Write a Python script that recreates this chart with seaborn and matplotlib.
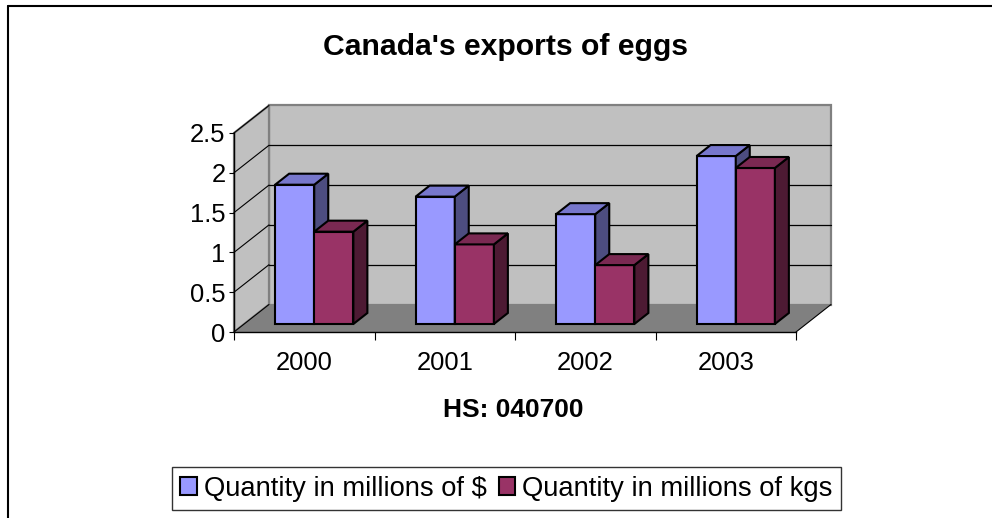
import matplotlib
matplotlib.use("Agg")
import numpy as np
import pandas as pd
import matplotlib.pyplot as plt
from matplotlib.patches import Polygon, Patch
from matplotlib.lines import Line2D
import seaborn as sns

# ---------------- data ----------------
years = ["2000", "2001", "2002", "2003"]
value_musd = [1.75, 1.60, 1.38, 2.11]
value_mkg = [1.16, 1.00, 0.74, 1.96]
series_names = ["Quantity in millions of $", "Quantity in millions of kgs"]
y_ticks = [0, 0.5, 1, 1.5, 2, 2.5]
y_tick_labels = ["0", "0.5", "1", "1.5", "2", "2.5"]
chart_title = "Canada's exports of eggs"
x_title = "HS: 040700"

front_colors = ["#9999FF", "#993366"]
top_colors = ["#7777CC", "#7A2952"]
side_colors = ["#4D4D80", "#4D1A33"]

df = pd.DataFrame({
    "year": years * 2,
    "value": value_musd + value_mkg,
    "series": [series_names[0]] * len(years) + [series_names[1]] * len(years),
})

# ---------------- figure ----------------
W, H, DPI = 992, 518, 100
sns.set_style("white")
plt.rcParams["font.family"] = ["Liberation Sans", "DejaVu Sans"]
plt.rcParams["text.color"] = "black"
plt.rcParams["axes.labelcolor"] = "black"
plt.rcParams["xtick.color"] = "black"
plt.rcParams["ytick.color"] = "black"

fig = plt.figure(figsize=(W / DPI, H / DPI), dpi=DPI)
AX_L, AX_R, AX_B, AX_T = 234, 796, 332, 133  # pixel positions (from top)
ax = fig.add_axes([AX_L / W, 1 - AX_B / H, (AX_R - AX_L) / W, (AX_B - AX_T) / H])
ax.patch.set_alpha(0)

sns.barplot(data=df, x="year", y="value", hue="series", palette=front_colors,
            width=0.557, edgecolor="black", linewidth=1.5, saturation=1,
            errorbar=None, legend=False, ax=ax)
XMIN, XMAX, YMAX = -0.5, 3.5, 2.5
ax.set_xlim(XMIN, XMAX)
ax.set_ylim(0, YMAX)

ux = (XMAX - XMIN) / (AX_R - AX_L)
uy = YMAX / (AX_B - AX_T)


def off(dxp, dyp):
    return dxp * ux, dyp * uy


# ---------------- 3D walls & floor ----------------
wx, wy = off(35, 27.5)
floor = Polygon([(XMIN, 0), (XMAX, 0), (XMAX + wx, wy), (XMIN + wx, wy)],
                fc="#808080", ec="none", zorder=0.6, clip_on=False)
back = Polygon([(XMIN + wx, wy), (XMAX + wx, wy), (XMAX + wx, YMAX + wy), (XMIN + wx, YMAX + wy)],
               fc="#C0C0C0", ec="#808080", lw=1.6, zorder=0.4, clip_on=False)
left = Polygon([(XMIN, 0), (XMIN + wx, wy), (XMIN + wx, YMAX + wy), (XMIN, YMAX)],
               fc="#C0C0C0", ec="#808080", lw=1.6, zorder=0.5, clip_on=False)
for poly in (back, left, floor):
    ax.add_patch(poly)

for v in y_ticks[1:-1]:
    ax.add_line(Line2D([XMIN + wx, XMAX + wx], [v + wy, v + wy], color="black",
                       lw=0.9, zorder=0.55, clip_on=False))
for v in y_ticks:
    ax.add_line(Line2D([XMIN, XMIN + wx], [v, v + wy], color="black",
                       lw=0.8, zorder=0.7, clip_on=False))
ax.add_line(Line2D([XMAX, XMAX + wx], [0, wy], color="black", lw=0.8,
                   zorder=0.7, clip_on=False))

# ---------------- 3D bars ----------------
bfx, bfy = off(10, 8)
bdx, bdy = off(14, 11)
for p in list(ax.patches):
    if p in (back, left, floor):
        continue
    x, y, w, h = p.get_x(), p.get_y(), p.get_width(), p.get_height()
    xc = x + w / 2
    hue = 0 if xc < round(xc) else 1
    X, Y0, Y1 = x + bfx, y + bfy, y + h + bfy
    p.set_x(X)
    p.set_y(Y0)
    p.set_clip_on(False)
    p.set_zorder(3 + 2 * hue)
    p.set_joinstyle("miter")
    top = Polygon([(X, Y1), (X + w, Y1), (X + w + bdx, Y1 + bdy), (X + bdx, Y1 + bdy)],
                  fc=top_colors[hue], ec="black", lw=1.5, zorder=3.5 + 2 * hue,
                  clip_on=False, joinstyle="miter")
    side = Polygon([(X + w, Y0), (X + w + bdx, Y0 + bdy), (X + w + bdx, Y1 + bdy), (X + w, Y1)],
                   fc=side_colors[hue], ec="black", lw=1.5, zorder=3.5 + 2 * hue,
                   clip_on=False, joinstyle="miter")
    ax.add_patch(side)
    ax.add_patch(top)

# ---------------- axes, ticks, text ----------------
for s in ("top", "right"):
    ax.spines[s].set_visible(False)
for s in ("left", "bottom"):
    ax.spines[s].set_color("black")
    ax.spines[s].set_linewidth(1.0)

ax.set_yticks(y_ticks)
ax.set_yticklabels(y_tick_labels)
ax.tick_params(axis="y", direction="out", length=3.6, width=0.8, pad=2.5,
               labelsize=18.4, color="black", labelcolor="black", left=True)
ax.set_xticks(range(len(years)))
ax.set_xticklabels(years)
ax.tick_params(axis="x", which="major", length=0, pad=13.7, labelsize=18.4,
               labelcolor="black")
ax.set_xticks(np.arange(len(years) + 1) - 0.5, minor=True)
ax.tick_params(axis="x", which="minor", direction="out", length=5.8, width=0.8,
               color="black", bottom=True)
ax.set_ylabel("")

ax.set_title(chart_title, fontsize=21.7, fontweight="bold", pad=0, color="black",
             x=(505 - AX_L) / (AX_R - AX_L), y=(AX_B - 55) / (AX_B - AX_T), va="baseline")
ax.set_xlabel(x_title, fontsize=19, fontweight="bold", color="black")
ax.xaxis.set_label_coords((513 - AX_L) / (AX_R - AX_L), (AX_B - 417) / (AX_B - AX_T))
ax.xaxis.label.set_va("baseline")

handles = [Patch(fc=c, ec="black", lw=1.5) for c in front_colors]
leg = fig.legend(handles, series_names, loc="center",
                 bbox_to_anchor=(506.5 / W, 1 - 488.5 / H), ncol=2, fontsize=19.7,
                 frameon=True, fancybox=False, edgecolor="black",
                 handlelength=0.6, handleheight=0.6, handletextpad=0.25,
                 columnspacing=0.45, borderpad=0.3, borderaxespad=0)
leg.get_frame().set_linewidth(1.0)
for t in leg.get_texts():
    t.set_color("black")

# chart border (cropped on right/bottom)
fig.add_artist(Line2D([7.5 / W, 1.0], [1 - 5.5 / H] * 2, transform=fig.transFigure,
                      color="black", lw=1.5))
fig.add_artist(Line2D([7.5 / W, 7.5 / W], [1 - 5.5 / H, 0.0], transform=fig.transFigure,
                      color="black", lw=1.5))

fig.savefig("out.png", dpi=DPI)
